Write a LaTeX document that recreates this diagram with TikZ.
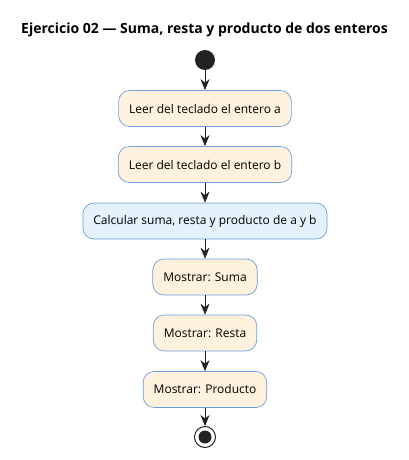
\documentclass[tikz,border=0pt]{standalone}
\usepackage{fontspec}
\setmainfont{Open Sans}
\usetikzlibrary{arrows.meta}
\definecolor{cream}{HTML}{FEF1DE}
\definecolor{bluefill}{HTML}{E3F2FD}
\definecolor{bord}{HTML}{6E9FDB}
\definecolor{ink}{HTML}{222222}
\tikzset{
  act/.style={draw=bord, fill=cream, rounded corners=11pt, minimum height=36pt, inner xsep=10.5pt, font=\fontsize{12}{14}\selectfont, text=black, line width=0.7pt},
  calc/.style={act, fill=bluefill},
  flow/.style={draw=ink, line width=0.9pt, -{Stealth[length=11pt,width=9pt,inset=3.5pt]}},
}
\begin{document}
\begin{tikzpicture}[x=1pt,y=-1pt]
\useasboundingbox (0,0) rectangle (409,460);
\node[font=\bfseries\fontsize{14}{16}\selectfont] (title) at (204.5,30) {Ejercicio 02 — Suma, resta y producto de dos enteros};
\node[circle, fill=ink, minimum size=20pt, inner sep=0pt] (start) at (205,60) {};
\node[act] (a) at (205,108.5) {Leer del teclado el entero a};
\node[act] (b) at (205,164.5) {Leer del teclado el entero b};
\node[calc] (c) at (205,221) {Calcular suma, resta y producto de a y b};
\node[act] (s) at (205,277) {Mostrar: Suma};
\node[act] (r) at (205,333) {Mostrar: Resta};
\node[act] (p) at (205,389.5) {Mostrar: Producto};
\node[circle, draw=ink, line width=1pt, fill=white, minimum size=21pt, inner sep=0pt] (end) at (205,437) {};
\fill[ink] (end.center) circle (6.5pt);
\draw[flow] (start) -- (a);
\draw[flow] (a) -- (b);
\draw[flow] (b) -- (c);
\draw[flow] (c) -- (s);
\draw[flow] (s) -- (r);
\draw[flow] (r) -- (p);
\draw[flow] (p) -- (end);
\end{tikzpicture}
\end{document}
